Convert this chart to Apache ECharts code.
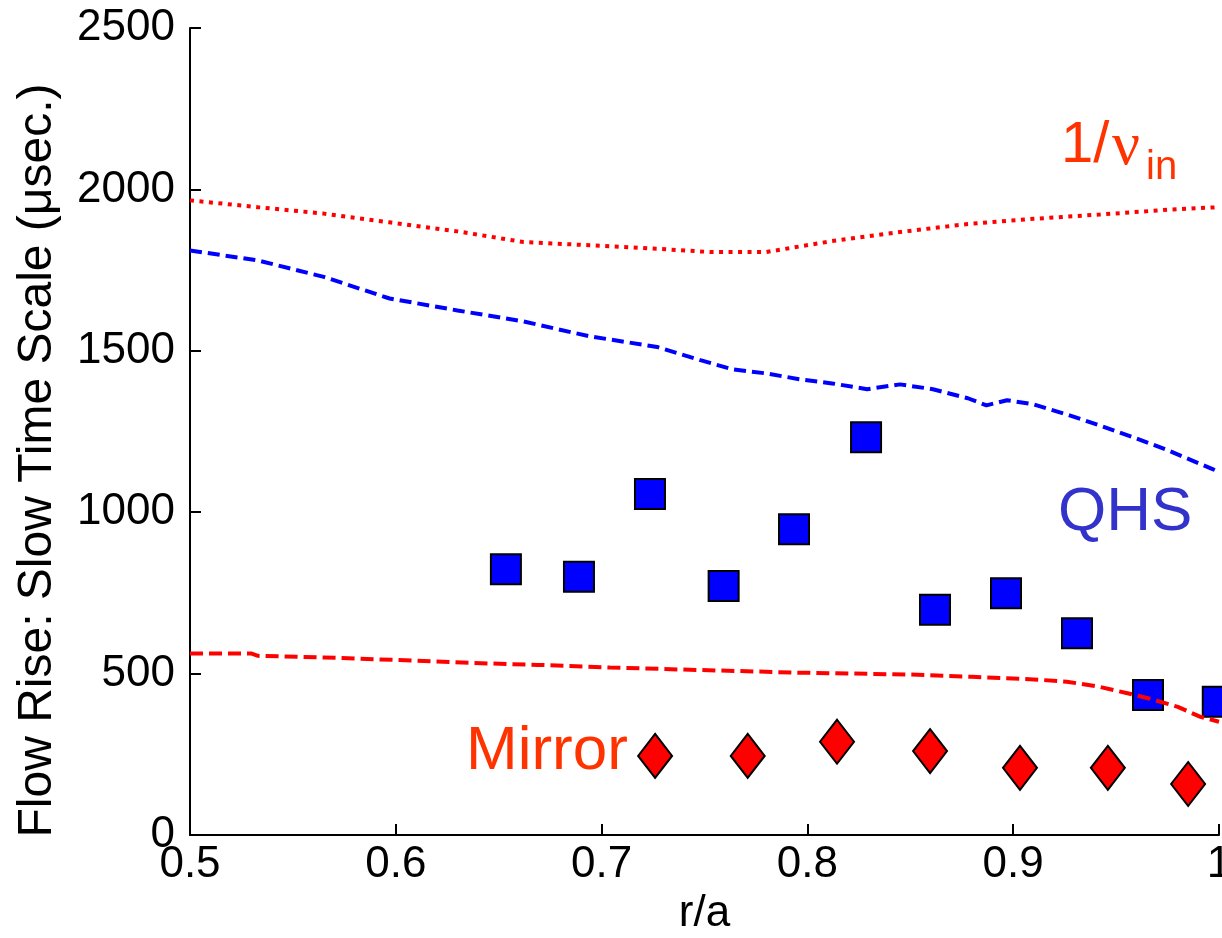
<!DOCTYPE html>
<html>
<head>
<meta charset="utf-8">
<script src="https://cdn.jsdelivr.net/npm/echarts@6.0.0/dist/echarts.min.js"></script>
<style>
  html, body { margin: 0; padding: 0; background: #fff; }
  #chart { width: 1222px; height: 938px; }
</style>
</head>
<body>
<div id="chart"></div>
<script>
// measured QHS flow rise times (blue squares)
var qhsR = [0.6535, 0.689, 0.7235, 0.7593, 0.7935, 0.8285, 0.862, 0.8965, 0.931, 0.9655, 0.9994];
var qhsT = [823, 800, 1056, 771, 947, 1232, 698, 749, 625, 434, 413];

// measured Mirror flow rise times (red diamonds)
var mirR = [0.726, 0.771, 0.8144, 0.8596, 0.9033, 0.946, 0.985];
var mirT = [245, 245, 289, 260, 208, 208, 158];

// 1/nu_in curve (red dotted)
var nuR = [0.5, 0.533, 0.565, 0.597, 0.63, 0.662, 0.694, 0.727, 0.753, 0.78, 0.812, 0.845, 0.878, 0.91, 0.942, 0.975, 1.0];
var nuT = [1966, 1945, 1925, 1898, 1870, 1837, 1827, 1816, 1806, 1806, 1840, 1868, 1893, 1909, 1922, 1937, 1945];

// QHS model curve (blue dashed)
var qhsLineR = [0.5, 0.533, 0.565, 0.597, 0.63, 0.662, 0.694, 0.727, 0.748, 0.764, 0.78, 0.796, 0.812, 0.829, 0.845, 0.861, 0.878, 0.887, 0.897, 0.91, 0.926, 0.942, 0.958, 0.975, 0.996, 1.0];
var qhsLineT = [1811, 1780, 1729, 1662, 1625, 1591, 1545, 1512, 1471, 1442, 1430, 1412, 1399, 1381, 1396, 1381, 1353, 1331, 1347, 1334, 1303, 1269, 1233, 1192, 1136, 1125];

// Mirror model curve (red dashed)
var mirLineR = [0.5, 0.53, 0.533, 0.565, 0.601, 0.6375, 0.669, 0.704, 0.748, 0.795, 0.85, 0.88, 0.91, 0.926, 0.942, 0.955, 0.966, 0.98, 0.991, 1.0];
var mirLineT = [562, 562, 555, 550, 542, 533, 527, 519, 511, 503, 497, 490, 482, 475, 459, 440, 423, 397, 366, 351];

function pairs(xs, ys) {
  return xs.map(function (x, i) { return [x, ys[i]]; });
}

var myChart = echarts.init(document.getElementById("chart"));
var font = "Liberation Sans, Arial, sans-serif";

var option = {
  animation: false,
  backgroundColor: "#fff",
  grid: { left: 190, right: 3, top: 28, bottom: 103, containLabel: false, outerBoundsMode: "none" },
  xAxis: {
    type: "value",
    min: 0.5,
    max: 1,
    interval: 0.1,
    name: "r/a",
    nameLocation: "middle",
    nameGap: 52,
    nameTextStyle: { fontFamily: font, fontSize: 44, color: "#000" },
    axisLine: { onZero: false, lineStyle: { color: "#000", width: 2 } },
    axisTick: { inside: true, length: 11, lineStyle: { color: "#000", width: 2 } },
    axisLabel: { fontFamily: font, fontSize: 44, color: "#000", margin: 8, hideOverlap: false },
    splitLine: { show: false }
  },
  yAxis: {
    type: "value",
    min: 0,
    max: 2500,
    interval: 500,
    name: "Flow Rise: Slow Time Scale (\u03bcsec.)",
    nameLocation: "middle",
    nameGap: 128,
    nameTextStyle: { fontFamily: font, fontSize: 48, color: "#000", padding: [0, 58, 0, 0] },
    axisLine: { lineStyle: { color: "#000", width: 2 } },
    axisTick: { inside: true, length: 11, lineStyle: { color: "#000", width: 2 } },
    axisLabel: {
      fontFamily: font, fontSize: 44, color: "#000", margin: 15,
      formatter: function (v) { return String(v); }
    },
    splitLine: { show: false }
  },
  series: [
    {
      name: "QHS",
      type: "scatter",
      symbol: "rect",
      symbolSize: 30,
      itemStyle: { color: "#0000ff", opacity: 1, borderColor: "#000", borderWidth: 2 },
      data: pairs(qhsR, qhsT)
    },
    {
      name: "Mirror",
      type: "scatter",
      symbol: "diamond",
      symbolSize: [34, 44],
      itemStyle: { color: "#ff0000", opacity: 1, borderColor: "#000", borderWidth: 2 },
      data: pairs(mirR, mirT)
    },
    {
      name: "1/nu_in",
      type: "line",
      symbol: "none",
      lineStyle: { color: "#ff0000", width: 4, type: [4, 5.5] },
      data: pairs(nuR, nuT)
    },
    {
      name: "QHS model",
      type: "line",
      symbol: "none",
      lineStyle: { color: "#0000ff", width: 4, type: [12, 6] },
      data: pairs(qhsLineR, qhsLineT)
    },
    {
      name: "Mirror model",
      type: "line",
      symbol: "none",
      lineStyle: { color: "#ff0000", width: 4, type: [13, 6] },
      data: pairs(mirLineR, mirLineT)
    }
  ],
  graphic: [
    { type: "text", left: 1061, top: 117, style: { text: "1/", font: "58px " + font, fill: "#ff3300" } },
    { type: "text", left: 1112, top: 117, style: { text: "\u03bd", font: "62px Liberation Serif, serif", fill: "#ff3300" } },
    { type: "text", left: 1146, top: 148, style: { text: "in", font: "40px " + font, fill: "#ff3300" } },
    { type: "text", left: 1058, top: 482, style: { text: "QHS", font: "62px " + font, fill: "#3333cc" } },
    { type: "text", left: 466, top: 721, style: { text: "Mirror", font: "62px " + font, fill: "#ff3300" } }
  ]
};

myChart.setOption(option);
</script>
</body>
</html>
